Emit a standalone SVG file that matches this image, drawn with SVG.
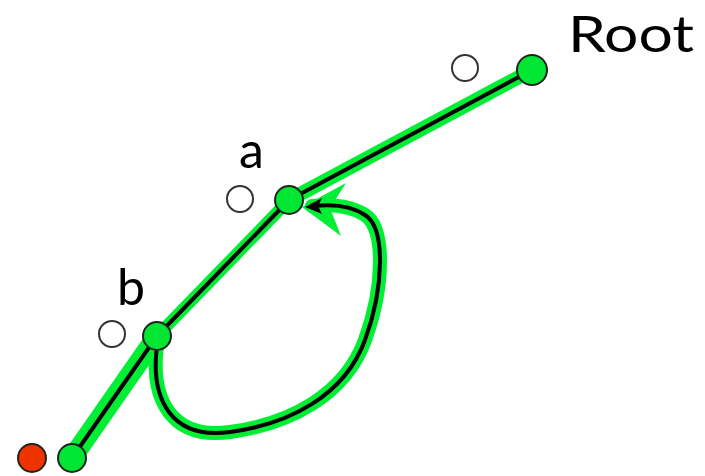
<svg xmlns="http://www.w3.org/2000/svg" width="705" height="476" viewBox="0 0 705 476">
<style>
.hl{fill:none;stroke:#00ee33;stroke-linecap:round;stroke-linejoin:round}
.ln{fill:none;stroke:#000;stroke-width:4;stroke-linecap:round;stroke-linejoin:round}
.g{fill:#00e633;stroke:#222;stroke-width:2}
.o{fill:#fff;stroke:#333;stroke-width:2}
.r{fill:#ee3300;stroke:#222;stroke-width:2}
.t{font-family:"Lato","Liberation Sans",sans-serif;fill:#000}
</style>
<rect width="705" height="476" fill="#fff"/>
<g id="connectors">
<path class="hl" stroke-width="20" d="M72,458 L157,336"/>
<path class="hl" stroke-width="12" d="M157,336 L289,200"/>
<path class="hl" stroke-width="14" d="M289,200 L532,70"/>
<path class="hl" stroke-width="14" d="M157,346 C150,400 172,440 230,432 C290,424 345,395 365,340 C384,288 386,228 365,215 C350,205 332,204 312,206"/>
<polygon fill="#00ee33" points="346,183 302,207 341,236 330,208"/>
<path class="ln" d="M72,458 L157,336 L289,200 L532,70"/>
<path class="ln" stroke-width="3.5" d="M157,346 C150,400 172,440 230,432 C290,424 345,395 365,340 C384,288 386,228 365,215 C350,205 332,204 314,206"/>
<polygon fill="#000" points="305,207 322,198 318,206 322,214"/>
</g>
<g id="root"><circle class="g" cx="532" cy="70" r="15"/><text class="t" x="568" y="52" font-size="50" textLength="126" lengthAdjust="spacingAndGlyphs">Root</text></g>
<g id="root-open"><circle class="o" cx="465" cy="68" r="13"/></g>
<g id="a"><circle class="g" cx="289" cy="200" r="14"/><text class="t" x="239" y="168" font-size="50">a</text></g>
<g id="a-open"><circle class="o" cx="240" cy="199" r="13"/></g>
<g id="b"><circle class="g" cx="157" cy="336" r="14"/><text class="t" x="117" y="305" font-size="50">b</text></g>
<g id="b-open"><circle class="o" cx="112" cy="334" r="13"/></g>
<g id="leaf"><circle class="g" cx="72" cy="458" r="14"/></g>
<g id="leaf-red"><circle class="r" cx="32" cy="458" r="14"/></g>
</svg>
